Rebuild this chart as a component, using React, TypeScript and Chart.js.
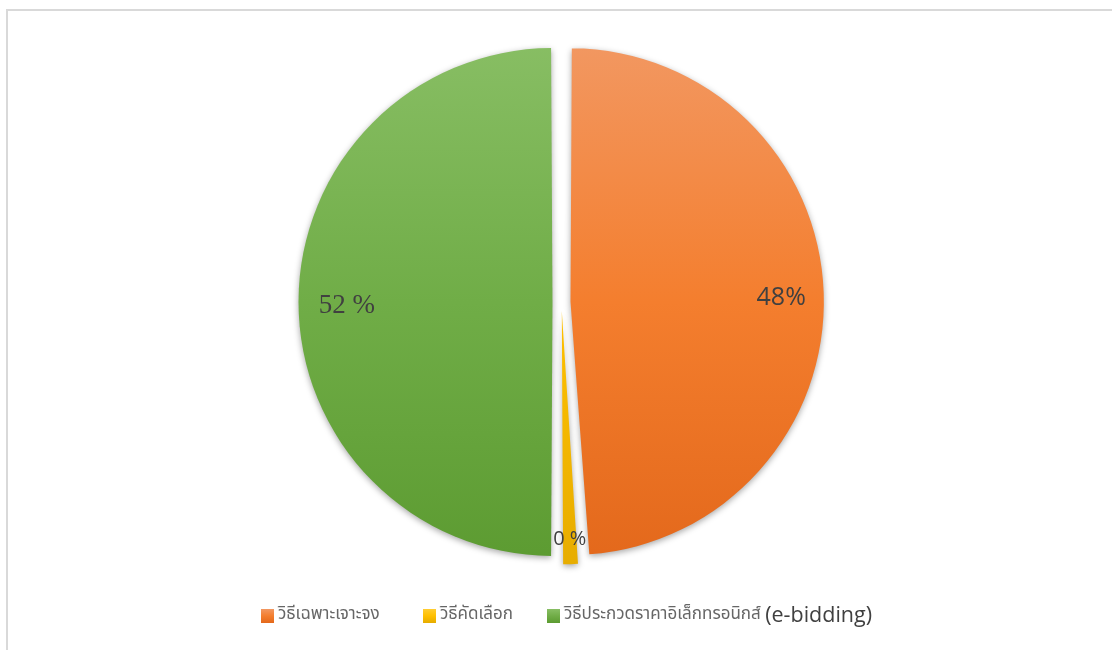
import React, { useEffect, useRef } from 'react';
import { Chart, registerables } from 'chart.js';

Chart.register(...registerables);

// ---- data ----
const categories = ['วิธีเฉพาะเจาะจง', 'วิธีคัดเลือก', 'วิธีประกวดราคาอิเล็กทรอนิกส์ (e-bidding)'];
const shares = [48.9, 1.1, 50];
const valueLabels = ['48%', '0 %', '52 %'];

// ---- styles ----
const gradTop = ['#f29862', '#ffcd33', '#88be64'];
const gradMid = ['#f47e2e', '#ffc000', '#70ad47'];
const gradBottom = ['#e3681b', '#e6ac00', '#5c9b31'];
const labelFonts = ['25px "Open Sans", "Noto Sans", sans-serif', '20px "Open Sans", "Noto Sans", sans-serif', '27px "Liberation Serif", "Times New Roman", serif'];
const labelRadius = [0.83, 0.9, 0.81];
const labelDy = [3, 0, 4];
const legendBoxX = [261, 423, 547];
const SLICE_SHIFT = 9; // visible pixel shift of each slice (Chart.js moves arcs by offset/4)

function makeGradient(ctx: CanvasRenderingContext2D, area: any, i: number, y0?: number, y1?: number) {
  const top = y0 !== undefined ? y0 : area.top;
  const bottom = y1 !== undefined ? y1 : area.bottom;
  const g = ctx.createLinearGradient(0, top, 0, bottom);
  g.addColorStop(0, gradTop[i]);
  g.addColorStop(0.5, gradMid[i]);
  g.addColorStop(1, gradBottom[i]);
  return g;
}

const framePlugin = {
  id: 'frame',
  beforeDraw(chart: any) {
    const ctx = chart.ctx;
    ctx.save();
    ctx.strokeStyle = '#d9d9d9';
    ctx.lineWidth = 2;
    ctx.strokeRect(7, 10, 1400, 900);
    ctx.restore();
  },
};

const shadowPlugin = {
  id: 'sliceShadow',
  beforeDatasetsDraw(chart: any) {
    const ctx = chart.ctx;
    ctx.save();
    ctx.shadowColor = 'rgba(0,0,0,0.35)';
    ctx.shadowBlur = 6;
    ctx.shadowOffsetX = 0;
    ctx.shadowOffsetY = 2;
  },
  afterDatasetsDraw(chart: any) {
    chart.ctx.restore();
  },
};

const valueLabelPlugin = {
  id: 'valueLabels',
  afterDatasetsDraw(chart: any) {
    const ctx = chart.ctx;
    const meta = chart.getDatasetMeta(0);
    meta.data.forEach((arc: any, i: number) => {
      const p = arc.getProps(['x', 'y', 'startAngle', 'endAngle', 'outerRadius'], true);
      const mid = (p.startAngle + p.endAngle) / 2;
      const d = SLICE_SHIFT + (p.outerRadius + SLICE_SHIFT) * labelRadius[i];
      const x = p.x + Math.cos(mid) * d;
      const y = p.y + Math.sin(mid) * d + labelDy[i];
      ctx.save();
      ctx.font = labelFonts[i];
      ctx.fillStyle = '#404040';
      ctx.textAlign = 'center';
      ctx.textBaseline = 'middle';
      ctx.fillText(valueLabels[i], x, y);
      ctx.restore();
    });
  },
};

const legendPlugin = {
  id: 'customLegend',
  afterDraw(chart: any) {
    const ctx = chart.ctx;
    const thaiFont = '17px "Noto Sans Thai", "Noto Sans Thai UI", Tahoma, "Noto Sans", sans-serif';
    const latinFont = '21.5px "Open Sans", "Noto Sans", sans-serif';
    const boxW = 13;
    const boxH = 14;
    const gapBox = 4;
    const midY = 616;
    ctx.save();
    categories.forEach((c, i) => {
      const m = c.match(/^(.*?)(\(.*\))$/);
      const thai = m ? m[1] : c;
      const latin = m ? m[2] : '';
      let x = legendBoxX[i];
      ctx.fillStyle = makeGradient(ctx, chart.chartArea, i, midY - boxH / 2, midY + boxH / 2);
      ctx.fillRect(x, midY - boxH / 2, boxW, boxH);
      x += boxW + gapBox;
      ctx.textAlign = 'left';
      ctx.textBaseline = 'middle';
      ctx.font = thaiFont;
      ctx.fillStyle = '#666666';
      ctx.fillText(thai, x, midY);
      x += ctx.measureText(thai).width;
      if (latin) {
        ctx.font = latinFont;
        ctx.fillStyle = '#404040';
        ctx.fillText(latin, x, midY);
      }
    });
    ctx.restore();
  },
};

export default function App() {
  const canvasRef = useRef<HTMLCanvasElement | null>(null);

  useEffect(() => {
    const canvas = canvasRef.current;
    if (!canvas) return;
    const chart = new Chart(canvas, {
      type: 'pie',
      data: {
        labels: categories,
        datasets: [
          {
            data: shares,
            offset: SLICE_SHIFT * 4,
            borderWidth: 0,
            backgroundColor: (c: any) => {
              const area = c.chart.chartArea;
              if (!area) return gradMid[c.dataIndex];
              return makeGradient(c.chart.ctx, area, c.dataIndex);
            },
          },
        ],
      },
      options: {
        responsive: false,
        animation: false,
        events: [],
        layout: { padding: { top: 39, bottom: 85, left: 11, right: 0 } },
        plugins: {
          legend: { display: false },
          tooltip: { enabled: false },
        },
      },
      plugins: [framePlugin, shadowPlugin, valueLabelPlugin, legendPlugin],
    });
    return () => chart.destroy();
  }, []);

  return (
    <div style={{ position: 'fixed', left: 0, top: 0, width: 1112, height: 650, background: '#ffffff' }}>
      <canvas ref={canvasRef} width={1112} height={650} style={{ width: 1112, height: 650, display: 'block' }} />
    </div>
  );
}
